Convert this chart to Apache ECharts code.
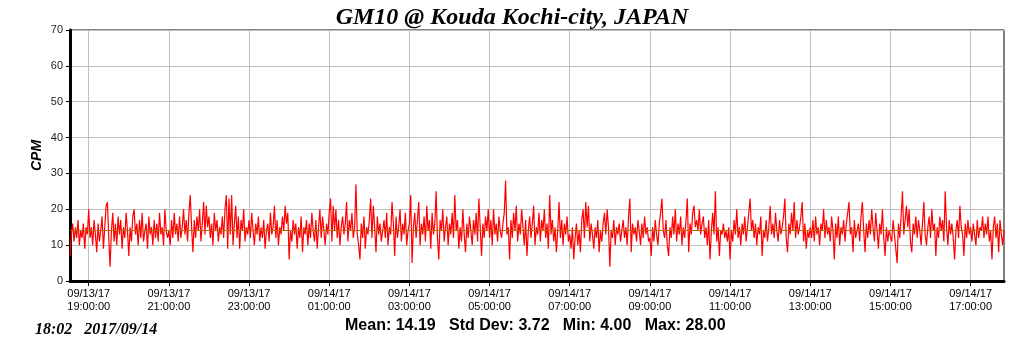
<!DOCTYPE html>
<html>
<head>
<meta charset="utf-8">
<script src="https://cdn.jsdelivr.net/npm/echarts@6/dist/echarts.min.js"></script>
<style>
  html, body { margin: 0; padding: 0; background: #fff; }
  #chart { width: 1024px; height: 351px; }
</style>
</head>
<body>
<div id="chart"></div>
<script>
// 开始时间 09/13 18:32 (从 09/13 00:00 起的分钟数), 每 2 分钟一个点
const startMinute = 1112
const stepMinute = 2
const endMinute = 2510

// CPM 值
const cpmValues = [
  // 18:32 - 19:00
  7, 13, 16, 11, 15, 12, 17, 10, 14, 12, 16, 9, 15, 13,
  // 19:00 - 21:00
  20, 12, 15, 10, 17, 13, 8, 16, 11, 14,
  18, 9, 15, 21, 22, 12, 4, 14, 19, 11,
  16, 10, 18, 13, 17, 9, 15, 12, 19, 14,
  7, 15, 11, 18, 20, 13, 16, 10, 17, 12,
  19, 11, 14, 16, 9, 18, 13, 15, 10, 17,
  12, 16, 11, 19, 13, 15, 10, 20, 14, 12,
  // 21:00 - 23:00
  14, 10, 17, 12, 19, 13, 16, 11, 18, 12,
  15, 20, 13, 17, 11, 19, 24, 15, 8, 17,
  12, 18, 14, 20, 11, 16, 22, 13, 21, 15,
  18, 12, 16, 10, 19, 14, 17, 11, 15, 13,
  18, 12, 20, 24, 9, 23, 13, 24, 10, 16,
  21, 12, 18, 9, 17, 14, 20, 11, 15, 13,
  // 23:00 - 01:00
  17, 12, 19, 14, 10, 16, 13, 18, 11, 15,
  12, 17, 9, 14, 16, 11, 19, 13, 15, 21,
  12, 17, 10, 15, 13, 18, 14, 21, 16, 19,
  6, 14, 11, 17, 13, 16, 9, 15, 12, 18,
  8, 15, 13, 17, 10, 16, 12, 19, 14, 11,
  17, 9, 15, 20, 12, 18, 14, 10, 16, 13,
  // 01:00 - 03:00
  19, 23, 11, 21, 14, 20, 12, 17, 10, 15,
  18, 13, 16, 22, 11, 17, 14, 19, 12, 15,
  27, 13, 10, 6, 16, 12, 18, 9, 15, 13,
  17, 23, 12, 21, 15, 8, 18, 13, 16, 11,
  14, 17, 12, 19, 10, 15, 13, 22, 16, 7,
  18, 12, 15, 20, 11, 16, 13, 19, 10, 14,
  // 03:00 - 05:00
  16, 24, 5, 15, 19, 12, 17, 22, 10, 16,
  13, 18, 11, 21, 14, 17, 9, 19, 13, 16,
  25, 12, 6, 17, 14, 20, 11, 15, 18, 10,
  16, 13, 19, 12, 24, 14, 17, 9, 15, 11,
  20, 13, 8, 16, 12, 18, 14, 10, 17, 13,
  19, 11, 23, 15, 7, 16, 12, 18, 14, 20,
  // 05:00 - 07:00
  12, 17, 10, 20, 13, 16, 11, 18, 14, 12,
  16, 19, 28, 13, 15, 6, 17, 12, 19, 14,
  21, 11, 16, 13, 20, 15, 10, 17, 7, 14,
  18, 12, 16, 21, 10, 15, 13, 19, 11, 17,
  14, 20, 12, 16, 9, 24, 13, 17, 11, 15,
  8, 14, 22, 12, 17, 10, 16, 13, 18, 11,
  // 07:00 - 09:00
  13, 9, 15, 6, 12, 16, 10, 14, 8, 17,
  20, 12, 22, 15, 21, 11, 16, 13, 9, 15,
  12, 17, 8, 14, 11, 16, 19, 13, 20, 15,
  4, 14, 12, 17, 10, 15, 13, 16, 11, 14,
  17, 12, 15, 10, 18, 23, 8, 16, 13, 15,
  11, 17, 14, 10, 16, 12, 18, 13, 15, 11,
  // 09:00 - 11:00
  12, 7, 15, 11, 17, 13, 10, 16, 19, 23,
  14, 12, 17, 10, 7, 15, 12, 18, 13, 20,
  11, 16, 13, 18, 10, 15, 12, 17, 23, 8,
  16, 13, 19, 21, 15, 17, 14, 20, 13, 16,
  18, 12, 15, 10, 17, 6, 14, 19, 13, 25,
  11, 15, 7, 14, 13, 16, 12, 14, 11, 15,
  // 11:00 - 13:00
  6, 14, 11, 17, 13, 20, 12, 15, 10, 16,
  13, 18, 11, 15, 19, 23, 14, 17, 12, 16,
  10, 15, 13, 18, 7, 14, 12, 17, 11, 15,
  21, 13, 16, 12, 19, 14, 11, 17, 13, 15,
  18, 23, 12, 8, 16, 13, 19, 14, 22, 12,
  17, 13, 15, 18, 22, 11, 16, 9, 14, 12,
  // 13:00 - 15:00
  15, 12, 17, 11, 18, 13, 15, 10, 16, 14,
  20, 12, 17, 13, 15, 11, 18, 14, 6, 16,
  12, 18, 10, 15, 13, 17, 11, 16, 19, 22,
  13, 15, 8, 17, 12, 14, 16, 11, 18, 22,
  14, 8, 16, 12, 17, 13, 20, 15, 11, 19,
  14, 9, 16, 13, 20, 12, 7, 15, 11, 14,
  // 15:00 - 17:00
  14, 11, 17, 13, 9, 5, 16, 12, 18, 25,
  13, 17, 21, 15, 20, 11, 8, 16, 13, 18,
  12, 17, 14, 10, 16, 22, 13, 10, 15, 18,
  12, 20, 14, 16, 7, 15, 12, 18, 14, 17,
  11, 25, 15, 10, 17, 13, 16, 12, 6, 14,
  17, 12, 21, 15, 13, 7, 16, 12, 17, 13,
  // 17:00 - 17:50
  15, 11, 16, 13, 10, 17, 12, 15, 14, 18,
  12, 16, 13, 18, 11, 14, 6, 15, 18, 12,
  16, 8, 17, 13, 10, 14
]

// x 轴刻度
const tickMinutes = [1140, 1260, 1380, 1500, 1620, 1740, 1860, 1980, 2100, 2220, 2340, 2460]
const tickLabels = [
  '09/13/17\n19:00:00', '09/13/17\n21:00:00', '09/13/17\n23:00:00',
  '09/14/17\n01:00:00', '09/14/17\n03:00:00', '09/14/17\n05:00:00',
  '09/14/17\n07:00:00', '09/14/17\n09:00:00', '09/14/17\n11:00:00',
  '09/14/17\n13:00:00', '09/14/17\n15:00:00', '09/14/17\n17:00:00'
]

// 统计值
const meanValue = 14.19
const stdDev = 3.72
const minValue = 4.0
const maxValue = 28.0
const stampText = '18:02   2017/09/14'

const seriesData = cpmValues.map((v, i) => [startMinute + i * stepMinute, v])

const myChart = echarts.init(document.getElementById('chart'))

const option = {
  animation: false,
  backgroundColor: '#fff',
  title: {
    text: 'GM10 @ Kouda Kochi-city, JAPAN',
    left: 'center',
    top: 1,
    textStyle: {
      fontFamily: 'Liberation Serif',
      fontStyle: 'italic',
      fontWeight: 'bold',
      fontSize: 24,
      color: '#000'
    }
  },
  grid: {
    left: 70,
    right: 20,
    top: 30,
    bottom: 70,
    show: true,
    borderColor: '#000',
    borderWidth: 1
  },
  xAxis: {
    type: 'value',
    min: startMinute,
    max: endMinute,
    axisLine: { onZero: false, lineStyle: { color: '#000', width: 3 } },
    axisTick: {
      customValues: tickMinutes,
      length: 5,
      lineStyle: { color: '#000' }
    },
    axisLabel: {
      customValues: tickMinutes,
      color: '#000',
      fontFamily: 'Liberation Sans',
      fontSize: 11,
      lineHeight: 13,
      margin: 6,
      formatter: (v) => {
        const idx = tickMinutes.indexOf(v)
        return idx >= 0 ? tickLabels[idx] : ''
      }
    },
    splitLine: { show: true, lineStyle: { color: '#c0c0c0', width: 1 } }
  },
  yAxis: {
    type: 'value',
    min: 0,
    max: 70,
    interval: 10,
    name: 'CPM',
    nameLocation: 'middle',
    nameRotate: 90,
    nameGap: 26,
    nameMoveOverlap: false,
    nameTextStyle: {
      fontFamily: 'Liberation Sans',
      fontStyle: 'italic',
      fontWeight: 'bold',
      fontSize: 14,
      color: '#000'
    },
    axisLine: { show: true, lineStyle: { color: '#000', width: 3 } },
    axisTick: { show: true, length: 4, lineStyle: { color: '#000' } },
    axisLabel: {
      color: '#222',
      fontFamily: 'Liberation Sans',
      fontSize: 11,
      margin: 7
    },
    splitLine: { lineStyle: { color: '#c0c0c0', width: 1 } }
  },
  series: [
    {
      type: 'line',
      data: seriesData,
      showSymbol: false,
      lineStyle: { color: '#ff0000', width: 1.2 },
      itemStyle: { color: '#ff0000' },
      markLine: {
        silent: true,
        symbol: 'none',
        label: { show: false },
        lineStyle: { color: '#b86a00', width: 1, type: 'solid' },
        data: [{ yAxis: meanValue }]
      }
    }
  ],
  graphic: [
    {
      type: 'text',
      left: 35,
      top: 322,
      style: {
        text: stampText,
        font: 'italic bold 16px "Liberation Serif"',
        fill: '#000'
      }
    },
    {
      type: 'text',
      left: 345,
      top: 318,
      style: {
        text: 'Mean: ' + meanValue.toFixed(2) + '   Std Dev: ' + stdDev.toFixed(2) +
          '   Min: ' + minValue.toFixed(2) + '   Max: ' + maxValue.toFixed(2),
        font: 'bold 16px "Liberation Sans"',
        fill: '#000'
      }
    }
  ]
}

myChart.setOption(option)
</script>
</body>
</html>
